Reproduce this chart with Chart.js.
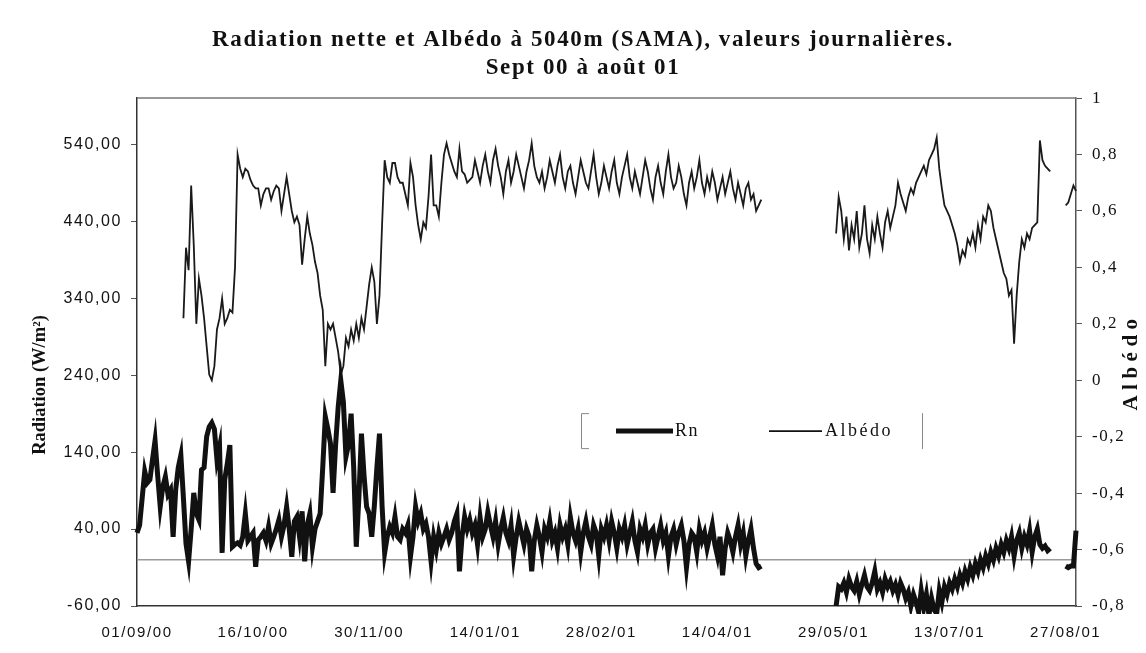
<!DOCTYPE html>
<html>
<head>
<meta charset="utf-8">
<title>Radiation nette et Albédo à 5040m (SAMA)</title>
<script src="https://cdn.jsdelivr.net/npm/chart.js@4.4.1/dist/chart.umd.min.js"></script>
<style>
  html, body { margin: 0; padding: 0; background: #fff; }
  #wrap { width: 1146px; height: 653px; }
</style>
</head>
<body>
<div id="wrap"><canvas id="chart" width="1146" height="653"></canvas></div>
<script>
// titles
const titleLines = [
  "Radiation nette et Albédo à 5040m (SAMA), valeurs journalières.",
  "Sept 00 à août 01"
];
const leftAxisTitle = "Radiation (W/m²)";
const rightAxisTitle = "Albédo";

// tick labels / tick values
const tickLabels = ["01/09/00", "16/10/00", "30/11/00", "14/01/01", "28/02/01",
                    "14/04/01", "29/05/01", "13/07/01", "27/08/01"];
const rnTicks = [-60, 40, 140, 240, 340, 440, 540];
const albTicks = [-0.8, -0.6, -0.4, -0.2, 0, 0.2, 0.4, 0.6, 0.8, 1];

// one day per value, Sept 2000 -> Aug 2001
const monthDays = [30, 31, 30, 31, 31, 28, 31, 30, 31, 30, 31, 31];

// Rn (W/m2), daily
const rnSep = [35, 45, 80, 115, 100, 104, 130, 155, 110, 69,
               95, 108, 85, 91, 30, 91, 120, 136, 80, 21,
               -2, 40, 87, 60, 52, 117, 120, 160, 173, 178];
const rnOct = [170, 130, 147, 9, 104, 125, 149, 17, 20, 22,
               19, 30, 60, 25, 30, 35, -9, 26, 30, 35,
               25, 43, 21, 30, 40, 52, 30, 45, 69, 40,
               4];
const rnNov = [50, 56, 30, 63, -2, 45, 60, 17, 40, 50,
               60, 120, 186, 170, 151, 87, 150, 199, 233, 205,
               134, 150, 190, 120, 17, 80, 164, 110, 69, 60];
const rnDec = [30, 70, 120, 164, 70, 9, 30, 43, 35, 56,
               30, 26, 40, 35, 45, 4, 30, 69, 50, 60,
               40, 47, 30, -2, 30, 13, 35, 21, 30, 40,
               26];
const rnJan = [35, 50, 60, -15, 30, 56, 40, 52, 35, 45,
               20, 55, 30, 40, 62, 45, 30, 50, 20, 40,
               55, 35, 25, 45, 5, 30, 50, 35, 20, 40,
               30];
const rnFeb = [-15, 25, 45, 30, 10, 40, 30, 50, 25, 35,
               15, 45, 30, 40, 20, 55, 35, 25, 40, 10,
               35, 50, 30, 20, 45, 35, 5, 40];
const rnMar = [30, 45, 25, 50, 35, 15, 40, 30, 45, 20,
               35, 50, 25, 10, 40, 30, 45, 20, 35, 40,
               15, 30, 45, 25, 35, 5, 30, 40, 20, 35,
               45];
const rnApr = [25, -10, 20, 35, 30, 10, 40, 25, 35, 15,
               30, 45, 20, 5, 30, -20, 15, 35, 25, 10,
               30, 45, 20, 35, 5, 25, 40, 15, -5, -10];
const rnMay = [-8, null, null, null, null, null, null, null, null, null,
               null, null, null, null, null, null, null, null, null, null,
               null, null, null, null, null, null, null, null, null, -60,
               -35];
const rnJun = [-38, -30, -42, -25, -35, -40, -28, -45, -32, -20,
               -35, -40, -30, -15, -38, -30, -42, -25, -35, -28,
               -40, -32, -45, -30, -38, -50, -42, -60, -45, -55];
const rnJul = [-68, -40, -62, -45, -72, -50, -65, -70, -40, -55,
               -35, -45, -30, -38, -25, -35, -20, -30, -15, -25,
               -10, -20, -5, -15, 0, -10, 5, -5, 10, 0,
               15];
const rnAug = [5, 20, 10, 25, 15, 30, 5, 25, 35, 15,
               30, 20, 38, 10, 30, 40, 20, 15, 18, 12,
               15, null, null, null, null, null, -8, -10, -8, -8,
               38];

// Albedo, daily
const albSep = [null, null, null, null, null, null, null, null, null, null,
                null, null, null, null, null, null, null, null, 0.22, 0.47,
                0.39, 0.69, 0.48, 0.20, 0.36, 0.30, 0.22, 0.12, 0.02, 0.00];
const albOct = [0.05, 0.18, 0.22, 0.29, 0.20, 0.22, 0.25, 0.24, 0.40, 0.80,
                0.75, 0.72, 0.75, 0.74, 0.71, 0.69, 0.68, 0.68, 0.62, 0.66,
                0.68, 0.68, 0.64, 0.67, 0.69, 0.68, 0.60, 0.66, 0.72, 0.66,
                0.60];
const albNov = [0.56, 0.58, 0.55, 0.41, 0.50, 0.58, 0.52, 0.48, 0.42, 0.38,
                0.30, 0.25, 0.05, 0.20, 0.18, 0.20, 0.15, 0.10, 0.02, 0.05,
                0.15, 0.12, 0.18, 0.14, 0.20, 0.15, 0.22, 0.18, 0.26, 0.34];
const albDec = [0.40, 0.35, 0.20, 0.30, 0.55, 0.78, 0.72, 0.70, 0.77, 0.77,
                0.72, 0.70, 0.70, 0.66, 0.62, 0.77, 0.72, 0.62, 0.55, 0.50,
                0.56, 0.54, 0.65, 0.80, 0.62, 0.62, 0.58, 0.70, 0.80, 0.84,
                0.80];
const albJan = [0.77, 0.74, 0.72, 0.82, 0.74, 0.73, 0.70, 0.71, 0.72, 0.78,
                0.74, 0.70, 0.76, 0.80, 0.74, 0.70, 0.78, 0.82, 0.76, 0.72,
                0.66, 0.74, 0.78, 0.70, 0.74, 0.80, 0.76, 0.72, 0.68, 0.74,
                0.78];
const albFeb = [0.84, 0.76, 0.72, 0.70, 0.74, 0.68, 0.72, 0.78, 0.74, 0.70,
                0.76, 0.80, 0.72, 0.68, 0.74, 0.76, 0.70, 0.66, 0.72, 0.78,
                0.74, 0.70, 0.68, 0.74, 0.80, 0.72, 0.66, 0.70];
const albMar = [0.76, 0.72, 0.68, 0.74, 0.78, 0.70, 0.66, 0.72, 0.76, 0.80,
                0.72, 0.68, 0.74, 0.70, 0.66, 0.72, 0.78, 0.74, 0.68, 0.64,
                0.72, 0.76, 0.70, 0.66, 0.74, 0.80, 0.72, 0.68, 0.70, 0.76,
                0.72];
const albApr = [0.66, 0.62, 0.70, 0.74, 0.68, 0.72, 0.78, 0.70, 0.66, 0.72,
                0.68, 0.74, 0.70, 0.64, 0.68, 0.72, 0.66, 0.70, 0.74, 0.68,
                0.64, 0.70, 0.66, 0.62, 0.68, 0.70, 0.64, 0.66, 0.60, 0.62];
const albMay = [0.64, null, null, null, null, null, null, null, null, null,
                null, null, null, null, null, null, null, null, null, null,
                null, null, null, null, null, null, null, null, null, 0.52,
                0.65];
const albJun = [0.60, 0.50, 0.58, 0.46, 0.55, 0.50, 0.60, 0.47, 0.52, 0.62,
                0.50, 0.45, 0.55, 0.50, 0.58, 0.52, 0.47, 0.56, 0.60, 0.54,
                0.58, 0.62, 0.70, 0.66, 0.63, 0.60, 0.65, 0.68, 0.66, 0.70];
const albJul = [0.72, 0.74, 0.76, 0.73, 0.78, 0.80, 0.82, 0.86, 0.75, 0.68,
                0.62, 0.60, 0.58, 0.55, 0.52, 0.48, 0.42, 0.46, 0.44, 0.50,
                0.48, 0.52, 0.47, 0.55, 0.50, 0.58, 0.56, 0.62, 0.60, 0.54,
                0.50];
const albAug = [0.46, 0.42, 0.38, 0.36, 0.30, 0.32, 0.13, 0.30, 0.42, 0.50,
                0.47, 0.52, 0.50, 0.54, 0.55, 0.56, 0.85, 0.78, 0.76, 0.75,
                0.74, null, null, null, null, null, 0.62, 0.63, 0.66, 0.69,
                0.67];

function joinMonths(months) {
  let out = [];
  months.forEach((m, i) => {
    const arr = m.slice(0, monthDays[i]);
    while (arr.length < monthDays[i]) arr.push(null);
    out = out.concat(arr);
  });
  return out;
}

const rnValues = joinMonths([rnSep, rnOct, rnNov, rnDec, rnJan, rnFeb, rnMar, rnApr, rnMay, rnJun, rnJul, rnAug]);
const albedoValues = joinMonths([albSep, albOct, albNov, albDec, albJan, albFeb, albMar, albApr, albMay, albJun, albJul, albAug]);

// daily category labels dd/mm/yy
const pad2 = (n) => String(n).padStart(2, "0");
const days = rnValues.map((v, i) => {
  const d = new Date(2000, 8, 1 + i);
  return pad2(d.getDate()) + "/" + pad2(d.getMonth() + 1) + "/" + pad2(d.getFullYear() % 100);
});

const serif = "'Liberation Serif', 'Times New Roman', serif";
const sans = "'Liberation Sans', Arial, sans-serif";

// zero line, plot frame, legend, axis titles
const extrasPlugin = {
  id: "extras",
  beforeDraw(chart) {
    // the scanned original has slightly spread-out lettering
    chart.ctx.letterSpacing = "1.6px";
  },
  beforeDatasetsDraw(chart) {
    const { ctx, chartArea } = chart;
    const y0 = chart.scales.yRn.getPixelForValue(0);
    ctx.save();
    ctx.strokeStyle = "#9a9a9a";
    ctx.lineWidth = 1.5;
    ctx.beginPath();
    ctx.moveTo(chartArea.left, y0);
    ctx.lineTo(chartArea.right, y0);
    ctx.stroke();
    ctx.restore();
  },
  afterDraw(chart) {
    const { ctx, chartArea } = chart;
    ctx.save();
    // frame top
    ctx.strokeStyle = "#777";
    ctx.lineWidth = 1.5;
    ctx.beginPath();
    ctx.moveTo(chartArea.left, chartArea.top);
    ctx.lineTo(chartArea.right, chartArea.top);
    ctx.stroke();

    // legend box
    const lx = chartArea.left + 444, ly = chartArea.top + 315, lw = 342, lh = 36;
    ctx.strokeStyle = "#888";
    ctx.lineWidth = 1;
    ctx.beginPath();
    ctx.moveTo(lx + 8, ly + 0.5); ctx.lineTo(lx + 0.5, ly + 0.5);
    ctx.lineTo(lx + 0.5, ly + lh - 0.5); ctx.lineTo(lx + 8, ly + lh - 0.5);
    ctx.moveTo(lx + lw - 0.5, ly); ctx.lineTo(lx + lw - 0.5, ly + lh);
    ctx.stroke();

    const my = ly + lh / 2;
    ctx.strokeStyle = "#111";
    ctx.lineWidth = 5;
    ctx.beginPath(); ctx.moveTo(lx + 35, my); ctx.lineTo(lx + 92, my); ctx.stroke();
    ctx.lineWidth = 1.8;
    ctx.beginPath(); ctx.moveTo(lx + 188, my); ctx.lineTo(lx + 241, my); ctx.stroke();
    ctx.fillStyle = "#111";
    ctx.font = "18px " + serif;
    ctx.textBaseline = "middle";
    ctx.textAlign = "left";
    ctx.letterSpacing = "1.6px";
    ctx.fillText(chart.data.datasets[0].label, lx + 94, my);
    ctx.letterSpacing = "2.5px";
    ctx.fillText(chart.data.datasets[1].label, lx + 244, my);

    // left axis title
    ctx.textAlign = "center";
    ctx.save();
    ctx.translate(40, 385);
    ctx.rotate(-Math.PI / 2);
    ctx.letterSpacing = "0px";
    ctx.font = "bold 18.5px " + serif;
    ctx.fillText(leftAxisTitle, 0, 0);
    ctx.restore();

    // right axis title, reading bottom to top
    ctx.translate(1132, 365);
    ctx.rotate(-Math.PI / 2);
    ctx.letterSpacing = "5.5px";
    ctx.font = "bold 21px " + serif;
    ctx.fillText(rightAxisTitle, 3, 0);
    ctx.restore();
  }
};

const ctx = document.getElementById("chart").getContext("2d");
new Chart(ctx, {
  type: "line",
  data: {
    labels: days,
    datasets: [
      {
        label: "Rn",
        data: rnValues,
        yAxisID: "yRn",
        borderColor: "#111",
        borderWidth: 5,
        pointRadius: 0,
        tension: 0,
        spanGaps: false,
        clip: 8,
      },
      {
        label: "Albédo",
        data: albedoValues,
        yAxisID: "yAlb",
        borderColor: "#1a1a1a",
        borderWidth: 1.8,
        pointRadius: 0,
        tension: 0,
        spanGaps: false,
      },
    ],
  },
  options: {
    responsive: false,
    animation: false,
    devicePixelRatio: 1,
    layout: { padding: { left: 20, right: 0, top: 0, bottom: 0 } },
    plugins: {
      legend: { display: false },
      tooltip: { enabled: false },
      title: {
        display: true,
        text: titleLines,
        color: "#111",
        font: { family: serif, size: 23, weight: "bold", lineHeight: 1.22 },
        padding: { top: 26, bottom: 16 },
      },
    },
    scales: {
      x: {
        type: "category",
        offset: false,
        grid: { drawOnChartArea: false, drawTicks: false },
        border: { display: true, color: "#333", width: 1.5 },
        afterBuildTicks: (scale) => {
          scale.ticks = scale.ticks.filter((t) => tickLabels.includes(days[t.value]));
        },
        afterFit: (scale) => { scale.height = 47; },
        ticks: {
          autoSkip: false,
          maxRotation: 0,
          padding: 18,
          color: "#111",
          font: { family: sans, size: 15 },
          callback: (value) => days[value],
        },
      },
      yRn: {
        position: "left",
        min: -60,
        max: 600,
        afterBuildTicks: (scale) => { scale.ticks = rnTicks.map((v) => ({ value: v })); },
        afterFit: (scale) => { scale.width = 117; },
        grid: { drawOnChartArea: false, drawTicks: true, tickLength: 6, color: "#555" },
        border: { display: true, color: "#333", width: 1.5 },
        ticks: {
          padding: 9,
          color: "#111",
          font: { family: sans, size: 16 },
          callback: (v) => v.toFixed(2).replace(".", ","),
        },
      },
      yAlb: {
        position: "right",
        min: -0.8,
        max: 1,
        afterBuildTicks: (scale) => { scale.ticks = albTicks.map((v) => ({ value: v })); },
        afterFit: (scale) => { scale.width = 70; },
        grid: { drawOnChartArea: false, drawTicks: true, tickLength: 6, color: "#555" },
        border: { display: true, color: "#555", width: 1.5 },
        ticks: {
          padding: 10,
          color: "#111",
          font: { family: serif, size: 17 },
          callback: (v) => String(Math.round(v * 10) / 10).replace(".", ","),
        },
      },
    },
  },
  plugins: [extrasPlugin],
});
</script>
</body>
</html>
